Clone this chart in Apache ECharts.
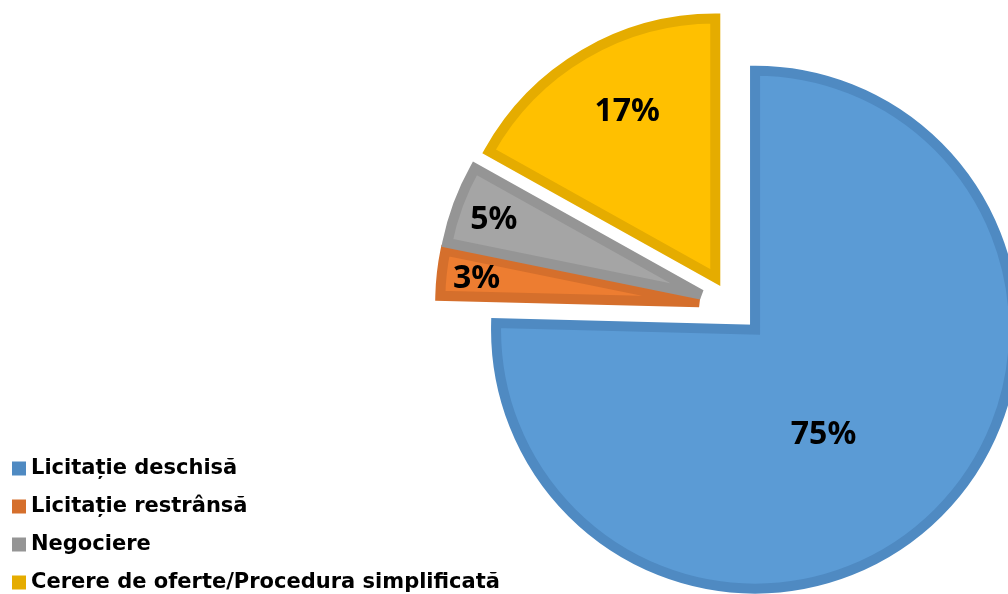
<!DOCTYPE html>
<html>
<head>
<meta charset="utf-8">
<script src="https://cdn.jsdelivr.net/npm/echarts@6/dist/echarts.min.js"></script>
<style>
  html, body { margin: 0; padding: 0; background: #fff; }
  #chart { width: 1008px; height: 594px; }
</style>
</head>
<body>
<div id="chart"></div>
<script>
  // date
  const categorii = ['Licitație deschisă', 'Licitație restrânsă', 'Negociere', 'Cerere de oferte/Procedura simplificată'];
  const valori = [75.4, 2.8, 4.9, 16.9];
  const culori = ['#5B9BD5', '#ED7D31', '#A5A5A5', '#FFC000'];
  const contururi = ['#4F8AC2', '#D56F2C', '#959595', '#E5AC00'];

  const myChart = echarts.init(document.getElementById('chart'));

  // deplasare etichete fata de pozitia 'inside'
  const mutari = [[-24, 10], [-91, -8], [-83, -29], [-21, -51]];

  const option = {
    animation: false,
    legend: {
      orient: 'vertical',
      left: 12,
      top: 458,
      height: 160,
      padding: 0,
      itemWidth: 14,
      itemHeight: 14,
      itemGap: 17,
      selectedMode: false,
      icon: 'rect',
      textStyle: {
        fontFamily: 'DejaVu Sans',
        fontWeight: 'bold',
        fontSize: 21,
        lineHeight: 21,
        color: '#000'
      },
      data: categorii.map((c, i) => ({
        name: c,
        itemStyle: { color: contururi[i], borderWidth: 0 }
      }))
    },
    series: [
      {
        type: 'pie',
        center: [732, 306],
        radius: 259,
        startAngle: 90,
        clockwise: true,
        selectedMode: 'multiple',
        selectedOffset: 33,
        percentPrecision: 0,
        emphasis: { disabled: true },
        label: {
          show: true,
          position: 'inside',
          formatter: '{d}%',
          fontFamily: 'Noto Sans',
          fontWeight: 'bold',
          fontSize: 32,
          color: '#000'
        },
        labelLine: { show: false },
        labelLayout: function (p) {
          const m = mutari[p.dataIndex];
          return { dx: m[0], dy: m[1] };
        },
        data: categorii.map((c, i) => {
          const stil = { color: culori[i], borderColor: contururi[i], borderWidth: 10, borderJoin: 'miter', borderMiterLimit: 2 };
          return { name: c, value: valori[i], selected: true, itemStyle: stil, select: { itemStyle: stil } };
        })
      }
    ]
  };
  myChart.setOption(option);
</script>
</body>
</html>
